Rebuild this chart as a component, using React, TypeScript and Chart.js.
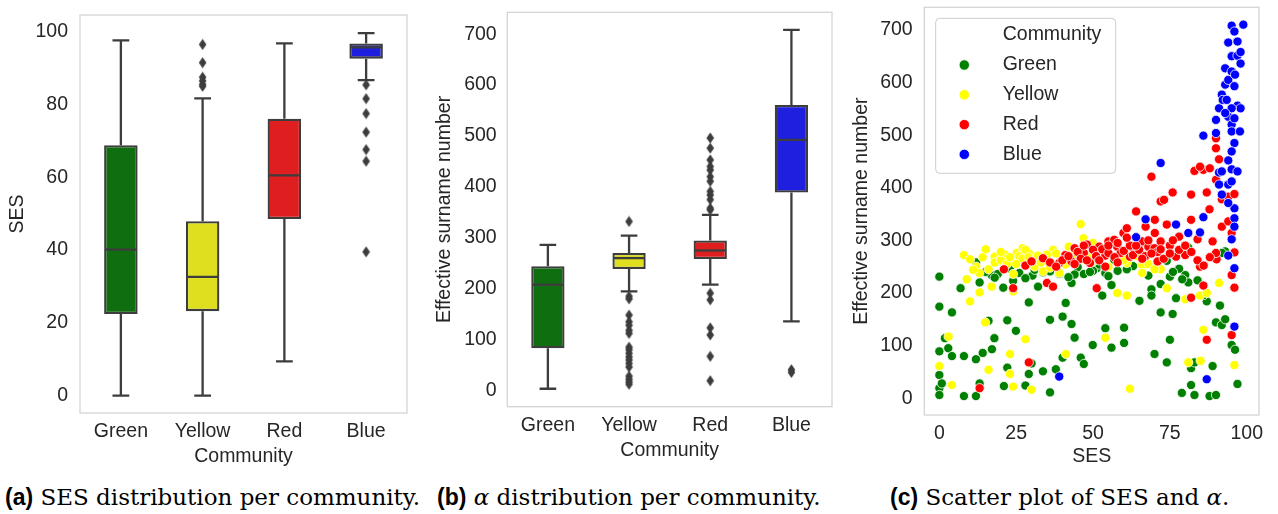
import React, { useEffect, useRef } from 'react';
import { Chart, registerables } from 'chart.js';

Chart.register(...registerables);

// ---------- shared ----------
const CATEGORIES = ['Green', 'Yellow', 'Red', 'Blue'];
const BOX_FILLS = ['#0f6e0f', '#dfdf1f', '#df1f1f', '#1f1fdf'];
const SCATTER_COLORS = ['#008000', '#ffff00', '#ff0000', '#0000ff'];
const EDGE = '#3d3d3d';
const TEXT = '#262626';
const FONT = '"Liberation Sans", Arial, sans-serif';

// ---------- panel (a): SES per community ----------
const SES_LOW = [0, 0, 9.4, 86.7];
const SES_Q1 = [22.4, 23.2, 48.5, 92.6];
const SES_MEDIAN = [40.1, 32.6, 60.5, 95.7];
const SES_Q3 = [68.8, 47.9, 76.1, 96.8];
const SES_HIGH = [97.6, 81.7, 96.8, 99.6];
const SES_OUT_YELLOW = [96.5, 91.5, 87.5, 86.5, 85.5, 85];
const SES_OUT_BLUE = [85.4, 81.6, 77.5, 72.4, 67.6, 64.4, 39.5];
const SES_TICKS = [0, 20, 40, 60, 80, 100];

// ---------- panel (b): effective surname number per community ----------
const ESN_LOW = [3.3, 194.5, 207.7, 135.6];
const ESN_Q1 = [83, 238.5, 258, 389];
const ESN_MEDIAN = [207.7, 260, 275, 492.5];
const ESN_Q3 = [244, 270, 294.7, 561];
const ESN_HIGH = [286, 304, 345, 708.6];
const ESN_OUT_YELLOW = [332, 185, 180, 148, 135, 128, 118, 112, 85, 80, 73, 66, 60, 53, 46, 28, 22, 17, 12];
const ESN_OUT_RED = [496, 476, 453, 440, 433, 420, 411, 391, 384, 375, 358, 355, 191, 178, 123, 109, 67, 19];
const ESN_OUT_BLUE = [40.7, 35.4];
const ESN_TICKS = [0, 100, 200, 300, 400, 500, 600, 700];

// ---------- panel (c): scatter SES vs effective surname number ----------
const SCATTER_X_TICKS = [0, 25, 50, 75, 100];
const GREEN_POINTS: [number, number][] = [
  [0, 231], [0, 174], [4.1, 163], [0, 89], [2.9, 95], [1.8, 114], [4.1, 80], [0, 44], [0, 19], [0.8, 28], [0, 6],
  [6.9, 209], [8, 80], [8, 4], [11.9, 74], [11.9, 4], [13.1, 28], [14.1, 86], [16, 147], [17.1, 93], [17.9, 114],
  [13.1, 220], [11.9, 258], [17, 234], [20.8, 210], [22.1, 148], [21, 23], [22.1, 58], [24.9, 128], [24, 223],
  [28, 24], [29.1, 46], [30, 66], [29.1, 182], [32.1, 212], [30.3, 233], [33.7, 239], [33.7, 51], [36, 11], [36, 149],
  [37.9, 55], [40.1, 155], [40.1, 77], [41.1, 181], [43, 141], [44, 115], [43, 219], [46, 77], [47, 65], [49.9, 101],
  [51.2, 247], [53, 195], [54, 133], [54, 238], [56, 96], [56, 215], [56.9, 263], [60.1, 105], [60.1, 134], [65.1, 185],
  [68, 233], [69, 207], [69, 195], [70, 84], [72, 163], [72, 217], [74, 68], [74, 261], [75, 111], [75.9, 160],
  [75, 231], [77, 190], [78.9, 10], [80, 234], [81, 220], [81, 286], [81.9, 57], [83, 68], [81.9, 25], [83, 6],
  [87, 184], [87.9, 4], [88.9, 61], [90, 6], [90, 144], [91.3, 176], [91.9, 139], [93, 150], [93, 279], [95.1, 101],
  [96.2, 92], [97, 27], [15, 240], [19, 236], [23, 246], [26, 238], [31, 244], [36, 241], [39, 236], [45, 249],
  [47, 236], [52, 254], [58, 242], [63, 251], [66, 256], [71, 252], [78, 246], [84, 224], [86, 196], [92, 276],
  [50, 242], [44, 235], [18, 229], [28, 228], [42, 230], [49, 240], [55, 232], [61, 245], [76, 240], [79, 226],
];
const YELLOW_POINTS: [number, number][] = [
  [0, 61], [3, 117], [4.1, 25], [8, 272], [8.9, 226], [10, 264], [10, 184], [13.1, 201], [14.1, 268], [15.1, 283],
  [16, 54], [17, 212], [14.9, 144], [18, 269], [19.2, 260], [21, 274], [23, 84], [23, 46], [24, 22], [24, 203],
  [24, 236], [25.2, 276], [27.1, 285], [28, 112], [30, 16], [29.1, 276], [32.1, 271], [33.7, 241], [37, 282], [39, 238],
  [41.2, 84], [42.1, 288], [46, 331], [46.9, 304], [44.5, 277], [49.9, 295], [54, 115], [57.9, 200], [61, 257], [61, 195],
  [62, 18], [66, 253], [66, 238], [72, 245], [74, 209], [80, 188], [81, 68], [85, 71], [85.9, 130], [84.8, 195],
  [87, 200], [91, 219], [96, 63], [12, 250], [16, 245], [18, 258], [20, 262], [22, 255], [26, 270], [27, 265],
  [28, 282], [30, 260], [31, 250], [34, 265], [36, 248], [38, 275], [40, 260], [44, 265], [50, 260], [55, 250],
  [60, 262], [64, 270], [68, 255], [70, 245], [13, 238], [20, 278], [25, 255], [33, 258], [11, 244], [23, 268],
  [29, 268], [35, 273], [41, 254], [48, 270],
];
const RED_POINTS: [number, number][] = [
  [13.1, 19], [21, 245], [24, 209], [29.1, 68], [28, 252], [30, 260], [33.7, 266], [35, 219], [37, 212], [39, 257],
  [41, 272], [43, 260], [44, 285], [48, 292], [47, 276], [49, 257], [51.2, 209], [52, 288], [54, 271], [54, 250],
  [55, 298], [56.9, 301], [57.9, 288], [59.9, 314], [61, 323], [59, 276], [62, 269], [63.1, 285], [64, 355], [66, 298],
  [67.1, 326], [68, 288], [69, 421], [70.1, 339], [70.1, 314], [71, 260], [72, 374], [73.1, 377], [72, 298], [74, 330],
  [75.9, 391], [75, 290], [77, 269], [78, 307], [80, 272], [81.9, 387], [81.9, 191], [81.9, 339], [83, 432], [84, 302],
  [84.8, 250], [85.9, 434], [85.9, 214], [87, 391], [87, 111], [87.9, 359], [88, 437], [88.9, 298], [90, 494], [90, 475],
  [90, 415], [91, 454], [91.9, 378], [91.9, 326], [94, 383], [94, 336], [95.1, 314], [95.1, 234], [95.1, 120], [96, 210],
  [96, 388], [96, 277], [90.2, 264], [90, 276], [84.8, 440], [40, 262], [42, 270], [45, 278], [46, 265], [48, 262],
  [50, 282], [51, 270], [53, 283], [55, 276], [57, 268], [58, 295], [60, 280], [62, 290], [63, 272], [65, 282],
  [67, 270], [68, 300], [70, 285], [71, 278], [73, 265], [75, 275], [78, 282], [80, 290], [82, 278], [84, 262],
  [86, 252], [88, 268], [36, 258], [38, 250], [44, 255], [47, 290], [52, 262], [55, 290], [58, 258], [61, 305],
  [64, 290], [66, 265], [69, 275], [72, 283], [76, 300],
];
const BLUE_POINTS: [number, number][] = [
  [39, 41], [64, 306], [67.1, 340], [72, 447], [77, 330], [81, 314], [84.8, 315], [85.9, 499], [85.9, 344], [87, 36],
  [90, 504], [91, 429], [91, 406], [91.9, 387], [90, 529], [91, 551], [91.9, 577], [93, 627], [93, 596], [94, 605],
  [94, 676], [95.1, 708], [95.1, 650], [96, 697], [97, 678], [97, 651], [98, 636], [98.9, 710], [98, 658], [96, 593],
  [97, 556], [98, 551], [95.1, 551], [94, 535], [93, 542], [95.1, 520], [96, 532], [95.1, 507], [97.8, 507], [96, 485],
  [95.1, 469], [94, 452], [95.1, 435], [97, 431], [94, 406], [95.1, 412], [96, 361], [96, 342], [96, 326], [95.1, 302],
  [94, 271], [96, 247], [96, 136], [94, 371], [91.9, 431], [95.1, 621], [96.2, 615], [92.2, 567], [93.5, 567],
];

// ---------- helpers ----------
function makeDiamond(color: string) {
  const c = document.createElement('canvas');
  c.width = 9;
  c.height = 12;
  const g = c.getContext('2d')!;
  g.fillStyle = color;
  g.beginPath();
  g.moveTo(4.5, 0.5);
  g.lineTo(8.3, 6);
  g.lineTo(4.5, 11.5);
  g.lineTo(0.7, 6);
  g.closePath();
  g.fill();
  return c;
}

const framePlugin = {
  id: 'frame',
  beforeDatasetsDraw(chart: any) {
    const { ctx, chartArea: a } = chart;
    ctx.save();
    ctx.strokeStyle = '#d4d4d4';
    ctx.lineWidth = 1.3;
    ctx.strokeRect(a.left, a.top, a.right - a.left, a.bottom - a.top);
    ctx.restore();
  },
};

const boxPlugin = {
  id: 'boxWhisker',
  beforeDatasetsDraw(chart: any) {
    const ds = chart.data.datasets[0];
    const st = ds.stats;
    if (!st) return;
    const meta = chart.getDatasetMeta(0);
    const y = chart.scales.y;
    const ctx = chart.ctx;
    ctx.save();
    ctx.strokeStyle = EDGE;
    ctx.lineWidth = 2.3;
    meta.data.forEach((bar: any, i: number) => {
      const cx = bar.x;
      const half = bar.width / 4;
      const yl = y.getPixelForValue(st.low[i]);
      const yq1 = y.getPixelForValue(st.q1[i]);
      const yq3 = y.getPixelForValue(st.q3[i]);
      const yh = y.getPixelForValue(st.high[i]);
      ctx.beginPath();
      ctx.moveTo(cx, yq1);
      ctx.lineTo(cx, yl);
      ctx.moveTo(cx - half, yl);
      ctx.lineTo(cx + half, yl);
      ctx.moveTo(cx, yq3);
      ctx.lineTo(cx, yh);
      ctx.moveTo(cx - half, yh);
      ctx.lineTo(cx + half, yh);
      ctx.stroke();
    });
    ctx.restore();
  },
  afterDatasetsDraw(chart: any) {
    const ds = chart.data.datasets[0];
    const st = ds.stats;
    if (!st) return;
    const meta = chart.getDatasetMeta(0);
    const y = chart.scales.y;
    const ctx = chart.ctx;
    ctx.save();
    ctx.strokeStyle = EDGE;
    ctx.lineWidth = 2.3;
    meta.data.forEach((bar: any, i: number) => {
      const ym = y.getPixelForValue(st.med[i]);
      ctx.beginPath();
      ctx.moveTo(bar.x - bar.width / 2 + 1, ym);
      ctx.lineTo(bar.x + bar.width / 2 - 1, ym);
      ctx.stroke();
    });
    ctx.restore();
  },
};

const legendPlugin = {
  id: 'innerLegend',
  afterDraw(chart: any) {
    const { ctx, chartArea: a } = chart;
    const x0 = a.left + 11.4;
    const y0 = a.top + 11;
    const w = 180;
    const h = 155;
    ctx.save();
    ctx.fillStyle = 'rgba(255,255,255,0.85)';
    ctx.strokeStyle = '#cccccc';
    ctx.lineWidth = 1;
    ctx.beginPath();
    (ctx as any).roundRect(x0, y0, w, h, 4);
    ctx.fill();
    ctx.stroke();
    ctx.font = `19.5px ${FONT}`;
    ctx.fillStyle = TEXT;
    ctx.textBaseline = 'middle';
    ctx.textAlign = 'left';
    ctx.fillText('Community', x0 + 67, y0 + 16);
    chart.data.datasets.forEach((ds: any, i: number) => {
      const cy = y0 + 46.7 + i * 29.8;
      ctx.beginPath();
      ctx.arc(x0 + 28.6, cy, 5.2, 0, Math.PI * 2);
      ctx.fillStyle = ds.backgroundColor;
      ctx.fill();
      ctx.strokeStyle = '#ffffff';
      ctx.lineWidth = 0.8;
      ctx.stroke();
      ctx.fillStyle = TEXT;
      ctx.fillText(ds.label, x0 + 67, cy);
    });
    ctx.restore();
  },
};

function fixedTicks(values: number[]) {
  return (scale: any) => {
    scale.ticks = values.map((v) => ({ value: v }));
  };
}

function fitY(width: number) {
  return (s: any) => {
    s.width = width;
    s.paddingTop = 0;
    s.paddingBottom = 0;
  };
}

function fitX(height: number) {
  return (s: any) => {
    s.height = height;
    s.paddingLeft = 0;
    s.paddingRight = 0;
  };
}

function boxConfig(p: any) {
  const diamond = makeDiamond(EDGE);
  const outliers: { x: string; y: number }[] = [];
  p.outliers.forEach((o: any) => o.values.forEach((v: number) => outliers.push({ x: o.cat, y: v })));
  return {
    type: 'bar',
    data: {
      labels: CATEGORIES,
      datasets: [
        {
          type: 'bar',
          data: CATEGORIES.map((_, i) => [p.q1[i], p.q3[i]]),
          backgroundColor: BOX_FILLS,
          borderColor: EDGE,
          borderWidth: 2.3,
          borderSkipped: false,
          barPercentage: 0.41,
          categoryPercentage: 1,
          stats: { low: p.low, q1: p.q1, med: p.med, q3: p.q3, high: p.high },
        },
        {
          type: 'scatter',
          data: outliers,
          pointStyle: diamond,
          pointRadius: 5,
          showLine: false,
        },
      ],
    },
    options: {
      responsive: false,
      animation: false,
      events: [],
      layout: { padding: { top: p.padTop, right: p.padRight, left: 0, bottom: 0 } },
      plugins: { legend: { display: false }, tooltip: { enabled: false } },
      scales: {
        x: {
          type: 'category',
          offset: true,
          grid: { display: false, drawTicks: false },
          border: { display: false },
          ticks: { color: TEXT, font: { family: FONT, size: 19.5 }, padding: p.xTickPad, maxRotation: 0 },
          title: {
            display: true,
            text: 'Community',
            color: TEXT,
            font: { family: FONT, size: 19.5 },
            padding: { top: 0, bottom: p.xTitlePad },
          },
          afterFit: fitX(p.xAxisHeight),
        },
        y: {
          type: 'linear',
          min: p.min,
          max: p.max,
          afterBuildTicks: fixedTicks(p.ticks),
          grid: { display: false, drawTicks: false },
          border: { display: false },
          ticks: { color: TEXT, font: { family: FONT, size: 19.5 }, padding: p.yTickPad },
          title: {
            display: true,
            text: p.yTitle,
            color: TEXT,
            font: { family: FONT, size: 19.5 },
            padding: { top: p.yTitlePad, bottom: 0 },
          },
          afterFit: fitY(p.yAxisWidth),
        },
      },
    },
    plugins: [framePlugin, boxPlugin],
  };
}

function scatterConfig() {
  const sets = [
    { label: 'Green', pts: GREEN_POINTS, order: 3 },
    { label: 'Yellow', pts: YELLOW_POINTS, order: 2 },
    { label: 'Red', pts: RED_POINTS, order: 1 },
    { label: 'Blue', pts: BLUE_POINTS, order: 0 },
  ];
  return {
    type: 'scatter',
    data: {
      datasets: sets.map((s, i) => ({
        label: s.label,
        order: s.order,
        data: s.pts.map(([x, y]) => ({ x, y })),
        backgroundColor: SCATTER_COLORS[i],
        borderColor: '#ffffff',
        borderWidth: 0.8,
        pointRadius: 4.6,
      })),
    },
    options: {
      responsive: false,
      animation: false,
      events: [],
      layout: { padding: { top: 7.3, right: 19, left: 0, bottom: 0 } },
      plugins: { legend: { display: false }, tooltip: { enabled: false } },
      scales: {
        x: {
          type: 'linear',
          min: -4.9,
          max: 104,
          afterBuildTicks: fixedTicks(SCATTER_X_TICKS),
          grid: { display: false, drawTicks: false },
          border: { display: false },
          ticks: { color: TEXT, font: { family: FONT, size: 19.5 }, padding: 6.5, maxRotation: 0 },
          title: {
            display: true,
            text: 'SES',
            color: TEXT,
            font: { family: FONT, size: 19.5 },
            padding: { top: 0, bottom: 1.3 },
          },
          afterFit: fitX(55),
        },
        y: {
          type: 'linear',
          min: -32,
          max: 743,
          afterBuildTicks: fixedTicks(ESN_TICKS),
          grid: { display: false, drawTicks: false },
          border: { display: false },
          ticks: { color: TEXT, font: { family: FONT, size: 19.5 }, padding: 11.6 },
          title: {
            display: true,
            text: 'Effective surname number',
            color: TEXT,
            font: { family: FONT, size: 19.5 },
            padding: { top: 9.7, bottom: 0 },
          },
          afterFit: fitY(84.3),
        },
      },
    },
    plugins: [framePlugin, legendPlugin],
  };
}

const captionStyle: React.CSSProperties = {
  position: 'absolute',
  top: 483,
  fontFamily: '"DejaVu Serif", serif',
  fontSize: 23,
  lineHeight: '28px',
  whiteSpace: 'nowrap',
  color: '#000',
};
const labelStyle: React.CSSProperties = { fontFamily: '"Liberation Sans", Arial, sans-serif', fontWeight: 'bold' };

export default function App() {
  const refA = useRef<HTMLCanvasElement>(null);
  const refB = useRef<HTMLCanvasElement>(null);
  const refC = useRef<HTMLCanvasElement>(null);

  useEffect(() => {
    const a = new Chart(
      refA.current!,
      boxConfig({
        low: SES_LOW, q1: SES_Q1, med: SES_MEDIAN, q3: SES_Q3, high: SES_HIGH,
        outliers: [{ cat: 'Yellow', values: SES_OUT_YELLOW }, { cat: 'Blue', values: SES_OUT_BLUE }],
        min: -4.8, max: 104.6, ticks: SES_TICKS, yTitle: 'SES',
        yAxisWidth: 80, yTickPad: 12, yTitlePad: 6,
        xAxisHeight: 57, xTickPad: 7, xTitlePad: 2,
        padTop: 15, padRight: 13,
      }) as any
    );
    const b = new Chart(
      refB.current!,
      boxConfig({
        low: ESN_LOW, q1: ESN_Q1, med: ESN_MEDIAN, q3: ESN_Q3, high: ESN_HIGH,
        outliers: [
          { cat: 'Yellow', values: ESN_OUT_YELLOW },
          { cat: 'Red', values: ESN_OUT_RED },
          { cat: 'Blue', values: ESN_OUT_BLUE },
        ],
        min: -32, max: 743, ticks: ESN_TICKS, yTitle: 'Effective surname number',
        yAxisWidth: 87.3, yTickPad: 10.6, yTitlePad: 13,
        xAxisHeight: 63.3, xTickPad: 7.3, xTitlePad: 8,
        padTop: 12.3, padRight: 8,
      }) as any
    );
    const c = new Chart(refC.current!, scatterConfig() as any);
    return () => {
      a.destroy();
      b.destroy();
      c.destroy();
    };
  }, []);

  return (
    <div style={{ position: 'absolute', left: 0, top: 0, width: 1278, height: 514, background: '#fff', overflow: 'hidden' }}>
      <canvas ref={refA} width={420} height={470} style={{ position: 'absolute', left: 0, top: 0 }} />
      <canvas ref={refB} width={420} height={470} style={{ position: 'absolute', left: 420, top: 0 }} />
      <canvas ref={refC} width={438} height={470} style={{ position: 'absolute', left: 840, top: 0 }} />
      <div style={{ ...captionStyle, left: 5 }}>
        <span style={labelStyle}>(a)</span> SES distribution per community.
      </div>
      <div style={{ ...captionStyle, left: 437 }}>
        <span style={labelStyle}>(b)</span> <i>α</i> distribution per community.
      </div>
      <div style={{ ...captionStyle, left: 890 }}>
        <span style={labelStyle}>(c)</span> Scatter plot of SES and <i>α</i>.
      </div>
    </div>
  );
}
